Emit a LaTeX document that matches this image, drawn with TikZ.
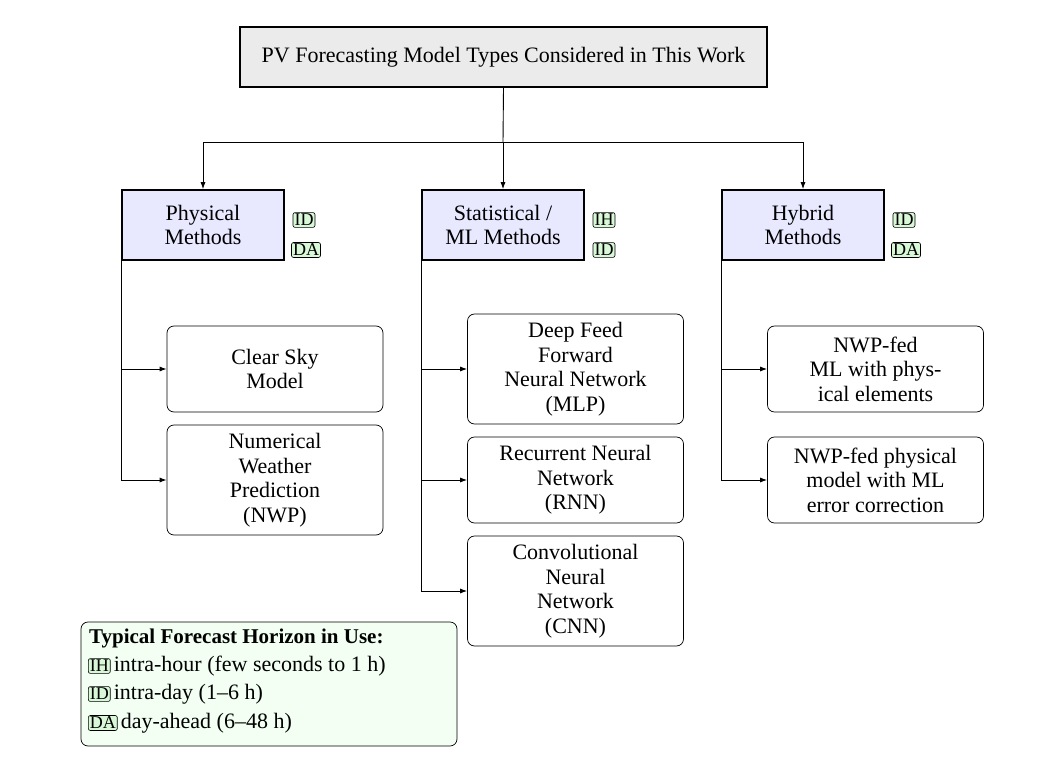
\documentclass[tikz,border=0pt]{standalone}
\usepackage{fontspec}
\setmainfont{Liberation Serif}
\usetikzlibrary{arrows.meta}
\definecolor{lav}{HTML}{E8E8FF}
\definecolor{tagg}{HTML}{D8F8D8}
\definecolor{leg}{HTML}{F2FFF2}
\begin{document}
\begin{tikzpicture}[x=1pt,y=-1pt,
  every node/.style={font=\fontsize{22}{24.5}\selectfont},
  cat/.style={draw,line width=1.6pt,fill=lav,minimum width=162pt,minimum height=70pt,align=center,inner sep=0pt},
  leaf/.style={draw,rounded corners=7pt,line width=0.7pt,minimum width=216pt,align=center,inner sep=0pt},
  tag/.style={draw,fill=tagg,rounded corners=2pt,line width=0.6pt,inner sep=1.5pt,font=\fontsize{18}{18}\selectfont},
  arr/.style={line width=0.9pt,-{Latex[length=7pt,width=5pt]}},
  ln/.style={line width=0.9pt}]
\useasboundingbox (0,0) rectangle (1057,762);
\node[draw,line width=1.6pt,fill=black!8,minimum width=527pt,minimum height=60pt] (t) at (503.5,57) {PV Forecasting Model Types Considered in This Work};
\node[cat] (p) at (203,225) {Physical\\Methods};
\node[cat] (s) at (503,225) {Statistical /\\ML Methods};
\node[cat] (h) at (803,225) {Hybrid\\Methods};
\node[tag] (p1) at (304,220) {ID};
\node[tag] (p2) at (306,250) {DA};
\node[tag] (s1) at (604,220) {IH};
\node[tag] (s2) at (604,250) {ID};
\node[tag] (h1) at (904,220) {ID};
\node[tag] (h2) at (906,250) {DA};
\coordinate (j) at (503,142);
\draw[ln] (t.south) -- (j);
\draw[arr] (j) -| (p.north);
\draw[arr] (j) -- (s.north);
\draw[arr] (j) -| (h.north);
\node[leaf,minimum height=86pt] (c1) at (275,369) {Clear Sky\\Model};
\node[leaf,minimum height=110pt] (c2) at (275,480) {Numerical\\Weather\\Prediction\\(NWP)};
\node[leaf,minimum height=110pt] (d1) at (575.5,369) {Deep Feed\\Forward\\Neural Network\\(MLP)};
\node[leaf,minimum height=86pt] (d2) at (575.5,480) {Recurrent Neural\\Network\\(RNN)};
\node[leaf,minimum height=110pt] (d3) at (575.5,591) {Convolutional\\Neural\\Network\\(CNN)};
\node[leaf,minimum height=86pt] (e1) at (875.5,369) {NWP-fed\\ML with phys-\\ical elements};
\node[leaf,minimum height=86pt] (e2) at (875.5,480) {NWP-fed physical\\model with ML\\error correction};
\draw[ln] (p.south west) -- (p.south west |- c2.west);
\draw[arr] (p.south west |- c1.west) -- (c1.west);
\draw[arr] (p.south west |- c2.west) -- (c2.west);
\draw[ln] (s.south west) -- (s.south west |- d3.west);
\draw[arr] (s.south west |- d1.west) -- (d1.west);
\draw[arr] (s.south west |- d2.west) -- (d2.west);
\draw[arr] (s.south west |- d3.west) -- (d3.west);
\draw[ln] (h.south west) -- (h.south west |- e2.west);
\draw[arr] (h.south west |- e1.west) -- (e1.west);
\draw[arr] (h.south west |- e2.west) -- (e2.west);
\node[draw,fill=leg,rounded corners=7pt,line width=0.7pt,minimum width=376pt,minimum height=124pt] (lg) at (269,684) {};
\node[anchor=west,inner sep=0pt,font=\fontsize{21}{24}\selectfont\bfseries] (lt) at (89,638) {Typical Forecast Horizon in Use:};
\node[tag,anchor=west] (l1) at (88,666) {IH};
\node[anchor=west,inner sep=3pt] (l1t) at (l1.east) {intra-hour (few seconds to 1 h)};
\node[tag,anchor=west] (l2) at (88,694) {ID};
\node[anchor=west,inner sep=3pt] (l2t) at (l2.east) {intra-day (1–6 h)};
\node[tag,anchor=west] (l3) at (88,723) {DA};
\node[anchor=west,inner sep=3pt] (l3t) at (l3.east) {day-ahead (6–48 h)};
\end{tikzpicture}
\end{document}
